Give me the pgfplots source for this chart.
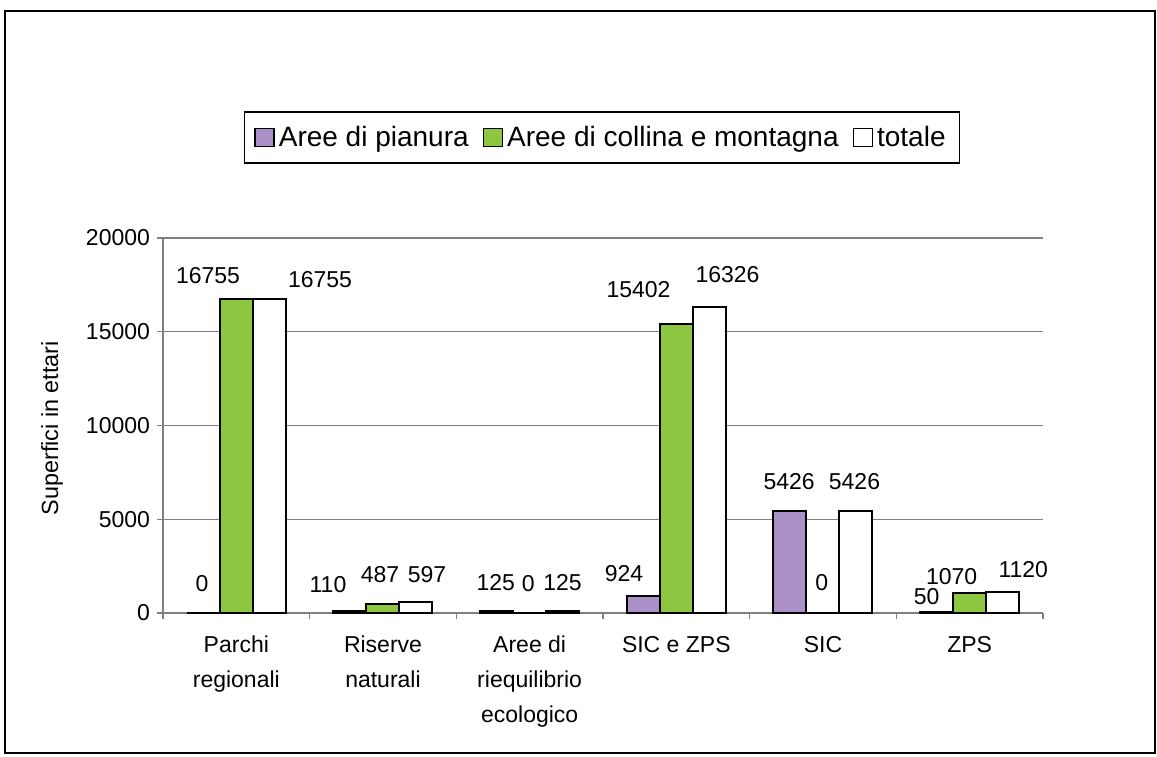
\documentclass[border=0pt]{standalone}
\usepackage{fontspec}
\setmainfont{Liberation Sans}
\usepackage{pgfplots}
\usepackage{pgfplotstable}
\pgfplotsset{compat=1.18}
\definecolor{cpurple}{RGB}{170,144,198}
\definecolor{cgreen}{RGB}{141,198,65}
\definecolor{cgrid}{RGB}{128,128,128}

% x = category, y = hectares, dx/dy = label offset (pt) from bar top, lab = label
\pgfplotstableread{
x y dx dy lab
0 0 -0.65 14.75 0
1 110 -11 13.2 110
2 125 -0.45 14.1 125
3 924 -9.65 11.1 924
4 5426 -0.4 14.8 5426
5 50 -5 7.7 50
}\pianura
\pgfplotstableread{
x y dx dy lab
0 16755 -14.15 11.65 16755
1 487 -1.5 14.45 487
2 0 -0.7 14.5 0
3 15402 -18.9 17.1 15402
4 0 -0.65 15.25 0
5 1070 -9 8.1 1070
}\collina
\pgfplotstableread{
x y dx dy lab
0 16755 25.35 9.65 16755
1 597 5.5 13.4 597
2 125 -0.1 14.1 125
3 16326 9.1 15.95 16326
4 5426 -0.75 14.8 5426
5 1120 10.3 11 1120
}\totale

\pgfplotsset{
  sqleg/.style={legend image code/.code={\draw[##1,line width=0.7pt] (0pt,-4.6pt) rectangle (9.5pt,4.6pt);}},
  lbl/.style={
    nodes near coords,
    point meta=explicit symbolic,
    visualization depends on={\thisrow{dx} \as \dx},
    visualization depends on={\thisrow{dy} \as \dy},
    every node near coord/.append style={anchor=center, xshift=\dx pt, yshift=\dy pt,
      font=\fontsize{11.5}{13}\selectfont, text=black, inner sep=0pt},
  },
}

\begin{document}
\begin{tikzpicture}
\path[use as bounding box] (-81.5pt,-71.5pt) rectangle (497pt,306.5pt);
\draw[line width=0.9pt] (-79pt,-70pt) rectangle (496pt,301pt);
\begin{axis}[
  at={(0,0)}, anchor=south west,
  scale only axis, width=440pt, height=187.5pt,
  ybar, bar width=16.5pt,
  xmin=-0.5, xmax=5.5, ymin=0, ymax=20000,
  enlarge x limits=false,
  axis x line*=bottom, axis y line*=left,
  axis line style={draw=cgrid, line width=0.6pt},
  ytick={0,5000,10000,15000,20000},
  scaled y ticks=false,
  xtick={0,...,5},
  xticklabels={{Parchi\\regionali},{Riserve\\naturali},{Aree di\\riequilibrio\\ecologico},{SIC e ZPS},{SIC},{ZPS}},
  minor xtick={-0.5,0.5,1.5,2.5,3.5,4.5,5.5},
  tick align=outside,
  major tick length=3pt, minor tick length=3pt,
  every major x tick/.append style={draw=none},
  tick style={draw=cgrid, line width=0.6pt},
  ymajorgrids, grid style={draw=cgrid, line width=0.6pt},
  /pgf/number format/.cd, fixed, 1000 sep={}, assume math mode=true, /pgfplots/.cd,
  yticklabel style={font=\fontsize{11.5}{13}\selectfont},
  xticklabel style={font=\fontsize{11.5}{17.5}\selectfont, align=center, anchor=north, yshift=-5pt},
  ylabel={Superfici in ettari},
  every axis y label/.style={at={(axis description cs:-0.1261,0.493)}, rotate=90, anchor=center, font=\fontsize{11.7}{13}\selectfont},
  legend style={at={(axis description cs:0.4989,1.268)}, anchor=center, draw=black, line width=0.7pt,
    font=\fontsize{14}{16}\selectfont, inner xsep=5pt, inner ysep=5pt,
    /tikz/every even column/.append style={column sep=5pt}},
  legend columns=-1,
]
\addplot[fill=cpurple, draw=black, line width=1pt, bar shift=-16.5pt, sqleg, lbl] table[x=x, y=y, meta=lab] {\pianura};
\addplot[fill=cgreen, draw=black, line width=1pt, bar shift=0pt, sqleg, lbl] table[x=x, y=y, meta=lab] {\collina};
\addplot[fill=white, draw=black, line width=1pt, bar shift=16.5pt, sqleg, lbl] table[x=x, y=y, meta=lab] {\totale};
\legend{Aree di pianura, Aree di collina e montagna, totale}
\end{axis}
\end{tikzpicture}
\end{document}
